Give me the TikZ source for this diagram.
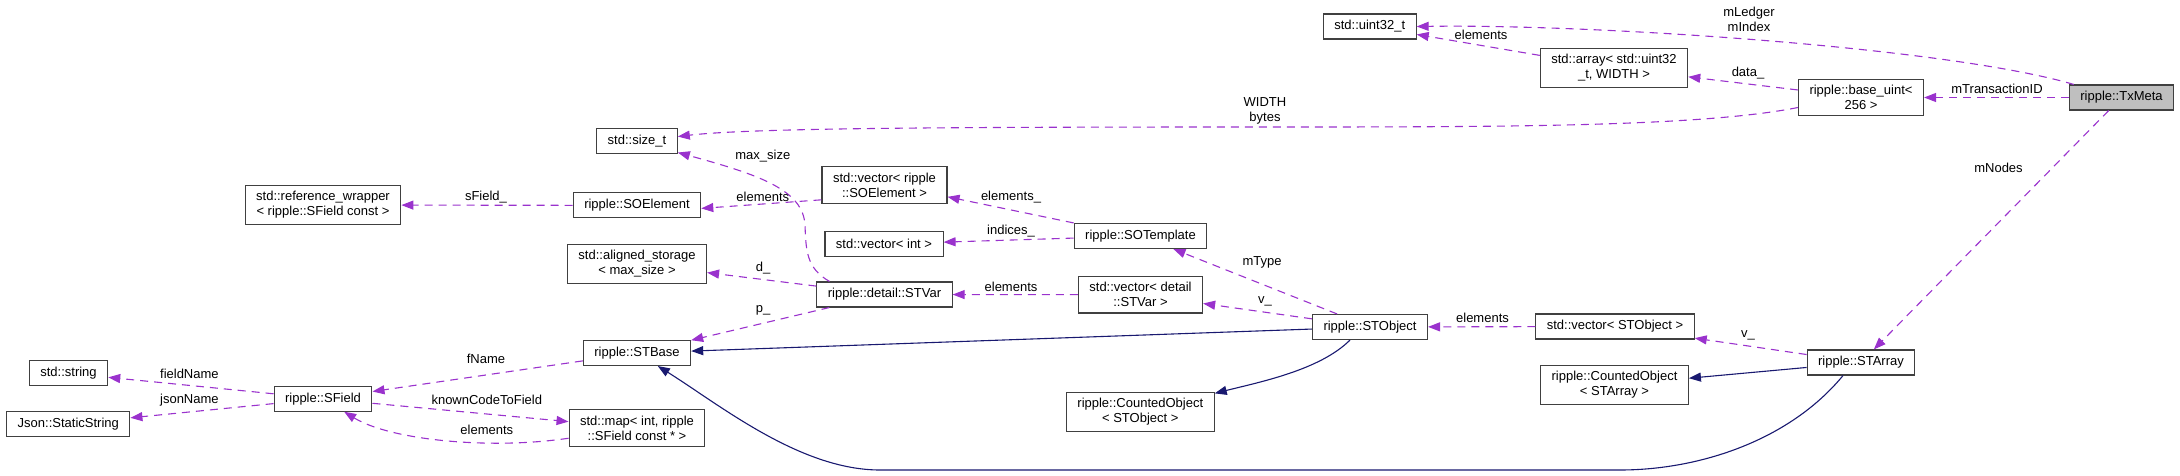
\documentclass[tikz,border=0pt]{standalone}
\usepackage{fontspec}
\setmainfont{Liberation Sans}
\usepackage{tikz}
\usepackage{xcolor}
\usetikzlibrary{arrows.meta}
\definecolor{edgepurple}{HTML}{9A32CD}
\definecolor{inhblue}{HTML}{191970}
\definecolor{txgrey}{HTML}{BFBFBF}
\begin{document}
\begin{tikzpicture}[x=1pt,y=-1pt,
  cls/.style={draw=black!75,line width=1.1pt,fill=white,font=\fontsize{13}{15}\selectfont,align=center,inner xsep=11pt,inner ysep=6pt,minimum height=25pt},
  lbl/.style={font=\fontsize{13}{15}\selectfont,align=center,inner sep=0pt},
  use/.style={-{Triangle[length=12pt,width=9pt]},edgepurple,dash pattern=on 8pt off 6pt,line width=1.1pt},
  inh/.style={-{Triangle[length=12pt,width=9pt]},inhblue,line width=1.1pt}]
  \useasboundingbox (0,0) rectangle (2180,476);
  % classes
  \node[cls,fill=txgrey] (txmeta) at (2121.5,97.5) {ripple::TxMeta};
  \node[cls] (uint32) at (1369.7,26.5) {std::uint32\_t}; \node[cls] (stdarray) at (1614,68) {std::array< std::uint32\\\_t, WIDTH >};
  \node[cls] (baseuint) at (1861,97.5) {ripple::base\_uint<\\256 >}; \node[cls] (sizet) at (637,141.4) {std::size\_t};
  \node[cls] (refwrap) at (323,205) {std::reference\_wrapper\\< ripple::SField const >}; \node[cls] (soelement) at (637,205.4) {ripple::SOElement};
  \node[cls] (vecsoelem) at (884.5,185) {std::vector< ripple\\::SOElement >}; \node[cls] (vecint) at (884,244) {std::vector< int >};
  \node[cls] (sotemplate) at (1140.5,236) {ripple::SOTemplate}; \node[cls] (alignedst) at (637,264) {std::aligned\_storage\\< max\_size >};
  \node[cls] (stvar) at (884.5,294.5) {ripple::detail::STVar}; \node[cls] (vecstvar) at (1140.5,294.7) {std::vector< detail\\::STVar >};
  \node[cls] (stobject) at (1370,327) {ripple::STObject}; \node[cls] (vecstobj) at (1615,326.5) {std::vector< STObject >};
  \node[cls] (starray) at (1861,362.5) {ripple::STArray}; \node[cls] (cntstarr) at (1614.5,385) {ripple::CountedObject\\< STArray >};
  \node[cls] (cntstobj) at (1140.3,412) {ripple::CountedObject\\< STObject >}; \node[cls] (stbase) at (637,353) {ripple::STBase};
  \node[cls] (sfield) at (323,398.7) {ripple::SField}; \node[cls] (stdmap) at (637,428) {std::map< int, ripple\\::SField const * >};
  \node[cls] (stdstring) at (68.5,373.4) {std::string}; \node[cls] (jsonss) at (68.3,424) {Json::StaticString};
  % members
  \draw[use] ([xshift=5pt]txmeta.north west) .. controls (1950,48) and (1600,24) .. (uint32.east);
  \draw[use] (stdarray) -- (uint32); \draw[use] (baseuint) -- (stdarray); \draw[use] (txmeta) -- (baseuint);
  \draw[use] ([yshift=-10pt]baseuint.west) .. controls (1700,127) and (1500,127) .. (1265,127) .. controls (950,127) and (750,128) .. (sizet);
  \draw[use] (txmeta) -- (starray); \draw[use] (starray) -- (vecstobj); \draw[use] (vecstobj) -- (stobject);
  \draw[use] (stobject) -- (sotemplate); \draw[use] (stobject) -- (vecstvar); \draw[use] (vecstvar) -- (stvar);
  \draw[use] (stvar) -- (alignedst); \draw[use] (stvar) -- (stbase);
  \draw[use] ([xshift=-55pt]stvar.north) .. controls (806,268) and (806,250) .. (805,225) .. controls (803,190) and (760,175) .. (sizet);
  \draw[use] ([yshift=4pt]vecsoelem.south west) -- ([yshift=-3pt]soelement.east); \draw[use] (soelement) -- (refwrap);
  \draw[use] (sotemplate.north west) -- ([yshift=7pt]vecsoelem.south east); \draw[use] (sotemplate) -- (vecint);
  \draw[use] (stbase) -- (sfield); \draw[use] (sfield) -- (stdstring); \draw[use] (sfield) -- (jsonss); \draw[use] (sfield) -- (stdmap);
  \draw[use] (stdmap) .. controls (490,450) and (390,440) .. (sfield);
  % bases
  \draw[inh] (stobject) -- (stbase); \draw[inh] (starray) -- (cntstarr);
  \draw[inh] ([xshift=-20pt]stobject.south) .. controls (1320,370) and (1260,382) .. (cntstobj);
  \draw[inh] ([xshift=-18pt]starray.south) .. controls (1790,440) and (1700,470) .. (1620,470) -- (880,470) .. controls (800,470) and (720,405) .. (stbase);
  % labels
  \node[lbl] (l-ledger) at (1749,19.5) {mLedger\\mIndex}; \node[lbl] (l-elem1) at (1481,34.7) {elements};
  \node[lbl] (l-data) at (1748,73.3) {data\_}; \node[lbl] (l-txid) at (1997,89.3) {mTransactionID};
  \node[lbl] (l-width) at (1265,110.5) {WIDTH\\bytes}; \node[lbl] (l-nodes) at (1998.5,168.3) {mNodes};
  \node[lbl] (l-v1) at (1748,335) {v\_}; \node[lbl] (l-elem2) at (1482.5,318.3) {elements};
  \node[lbl] (l-type) at (1262,262.7) {mType}; \node[lbl] (l-v2) at (1265,301.7) {v\_};
  \node[lbl] (l-elem3) at (1011,286.7) {elements}; \node[lbl] (l-d) at (763,268.3) {d\_}; \node[lbl] (l-p) at (763,310.7) {p\_};
  \node[lbl] (l-maxsize) at (762.8,156) {max\_size}; \node[lbl] (l-elem4) at (762.8,197) {elements};
  \node[lbl] (l-sfield) at (486,196.7) {sField\_}; \node[lbl] (l-elem5) at (1011,197) {elements\_}; \node[lbl] (l-indices) at (1011,231) {indices\_};
  \node[lbl] (l-fname) at (486,359.3) {fName}; \node[lbl] (l-fieldname) at (189.4,374) {fieldName}; \node[lbl] (l-jsonname) at (189.4,400) {jsonName};
  \node[lbl] (l-kctf) at (486.8,400) {knownCodeToField}; \node[lbl] (l-elem6) at (486.8,430) {elements};
\end{tikzpicture}
\end{document}
